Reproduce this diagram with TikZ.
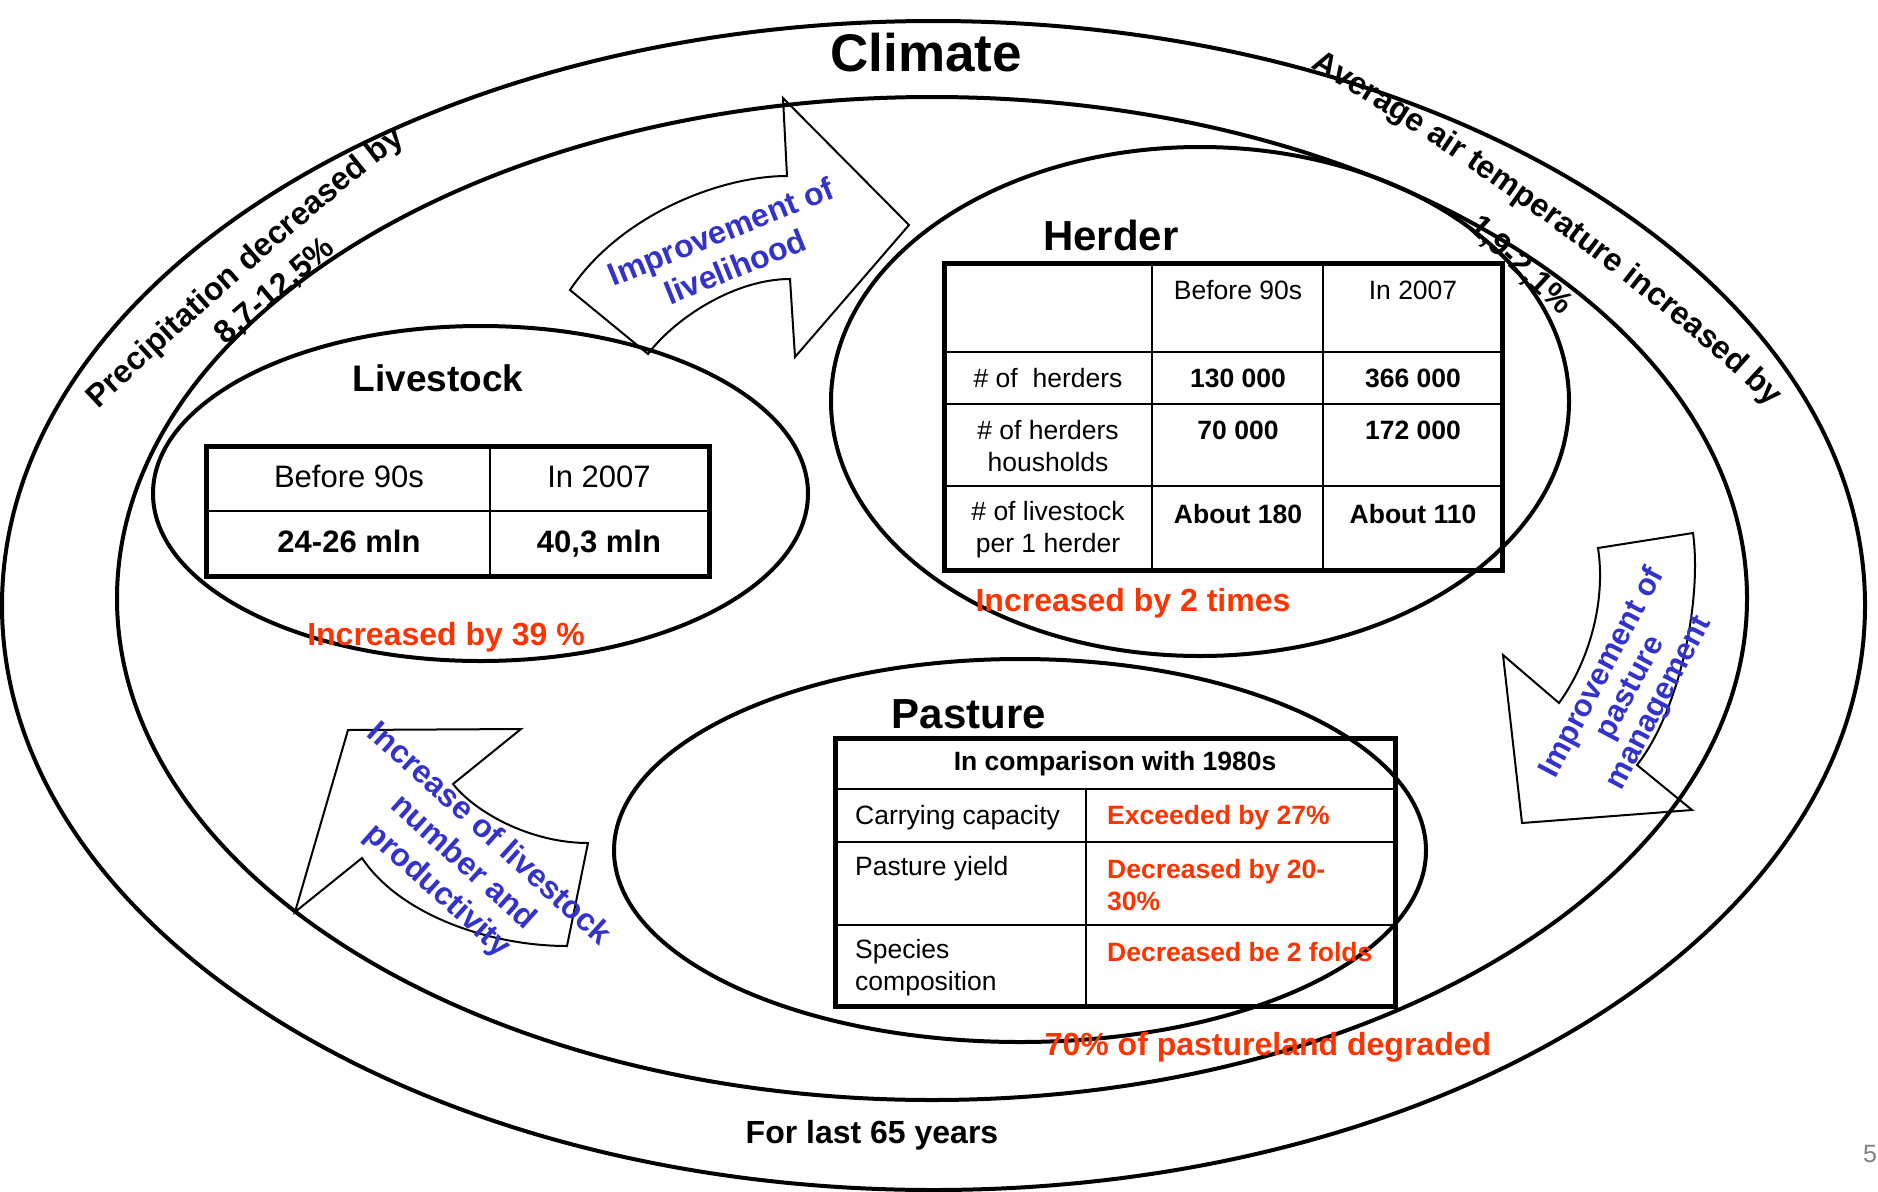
\documentclass[tikz,border=0pt]{standalone}
\usepackage{fontspec}
\setmainfont{Liberation Sans}
\usetikzlibrary{decorations.text}
\definecolor{redtxt}{RGB}{255,51,0}
\definecolor{bluetxt}{RGB}{51,51,204}
\definecolor{pagegray}{RGB}{128,128,128}
\newcommand\climfont{\fontsize{32}{38}\selectfont\bfseries}
\begin{document}
\begin{tikzpicture}[x=1pt,y=-1pt,
  ring/.style={line width=4pt},
  tbl/.style={line width=5pt},
  grid/.style={line width=2pt},
  blockarrow/.style={line width=2pt, line join=miter},
  ctitle/.style={inner sep=0pt, font=\fontsize{53}{60}\selectfont\bfseries, text height=38.2pt, text depth=0pt},
  ttl/.style={inner sep=0pt, font=\fontsize{42}{50}\selectfont\bfseries, text height=30.2pt, text depth=0pt},
  lcell/.style={inner sep=0pt, font=\fontsize{31}{36}\selectfont, text height=22.3pt, text depth=0pt},
  lcellb/.style={lcell, font=\fontsize{31}{36}\selectfont\bfseries},
  hcell/.style={inner sep=0pt, font=\fontsize{26.5}{32}\selectfont, align=center},
  hcellb/.style={hcell, font=\fontsize{26.5}{32}\selectfont\bfseries},
  pcell/.style={inner sep=0pt, font=\fontsize{26.5}{32}\selectfont, align=left, anchor=west},
  pcellr/.style={pcell, font=\fontsize{26.5}{32}\selectfont\bfseries, text=redtxt},
  redlab/.style={inner sep=0pt, font=\fontsize{32}{38}\selectfont\bfseries, text=redtxt, text height=23pt, text depth=0pt},
  blacklab/.style={inner sep=0pt, font=\fontsize{32}{38}\selectfont\bfseries, text height=23pt, text depth=0pt},
  arrowtxt/.style={inner sep=0pt, font=\fontsize{32}{38}\selectfont\bfseries, text=bluetxt, align=center},
  alongtext/.style={decorate, decoration={text along path, text align=center, text={#1}}}
]
\useasboundingbox (0,0) rectangle (1878,1191);

% nested ellipses
\draw[ring] (933.5,605.5) ellipse [x radius=931.5pt, y radius=584.5pt];
\draw[ring] (932,598.5) ellipse [x radius=815pt, y radius=501.5pt];
\draw[ring] (480.5,493.5) ellipse [x radius=327.5pt, y radius=167.5pt];
\draw[ring] (1200,401.5) ellipse [x radius=369pt, y radius=254.5pt];
\draw[ring] (1020,850.5) ellipse [x radius=406pt, y radius=191.5pt];

% climate labels
\node[ctitle] (climate) at (926,52) {Climate};
\path[alongtext={|\climfont|Precipitation decreased by}] (85,422) .. controls (168,342) and (330,196) .. (420,131);
\path[alongtext={|\climfont|8,7-12,5{\%}}] (205,363) -- (357,233);
\path[alongtext={|\climfont|Average air temperature increased by}] (1288,55) .. controls (1437,138) and (1670,303) .. (1788,425);
\path[alongtext={|\climfont|1,9-2,1{\%}}] (1441,204) -- (1587,340);
\node[blacklab] (years) at (872,1132) {For last 65 years};

% block arrows
\draw[blockarrow] (570,290) -- (648,354) .. controls (675,318) and (735,279) .. (790,279) -- (795,357) -- (909,225) -- (783,98) -- (787,176) .. controls (720,176) and (620,215) .. (570,290) -- cycle;
\draw[blockarrow] (1598,548) -- (1693,533) .. controls (1702,600) and (1680,710) .. (1637,765) -- (1692,810) -- (1522,823) -- (1503,655) -- (1559,703) .. controls (1590,660) and (1606,600) .. (1598,548) -- cycle;
\draw[blockarrow] (295,912) -- (348,730) -- (521,729) -- (453,784) .. controls (475,812) and (530,843) .. (588,843) -- (567,946) .. controls (490,946) and (400,915) .. (362,858) -- cycle;
\node[arrowtxt, rotate=22] (tlive) at (728,249) {Improvement of\\livelihood};
\node[arrowtxt, rotate=62, font=\fontsize{31}{32}\selectfont\bfseries] (tpast) at (1631,688) {Improvement of\\pasture\\management};
\node[arrowtxt, rotate=-42] (tstock) at (463,863) {Increase of livestock\\number and\\productivity};

% Livestock
\node[ttl, font=\fontsize{37}{44}\selectfont\bfseries, text height=26.6pt] (livestock) at (438,378) {Livestock};
\draw[grid] (206,511) -- (709,511) (490,446) -- (490,576);
\draw[tbl] (206,446) rectangle (709,576);
\node[lcell] (l11) at (349,476) {Before 90s};
\node[lcell] (l12) at (599,476) {In 2007};
\node[lcellb] (l21) at (349,541) {24-26 mln};
\node[lcellb] (l22) at (599,541) {40,3 mln};
\node[redlab] (lred) at (446,634) {Increased by 39 \%};

% Herder
\node[ttl] (herder) at (1111,235) {Herder};
\draw[grid] (944,352) -- (1502,352) (944,404) -- (1502,404) (944,486) -- (1502,486)
  (1152,263) -- (1152,570) (1323,263) -- (1323,570);
\draw[tbl] (944,263) rectangle (1502,570);
\node[hcell] (h02) at (1238,290) {Before 90s};
\node[hcell] (h03) at (1413,290) {In 2007};
\node[hcell] (h11) at (1048,378) {\#\ of\ \ herders};
\node[hcellb] (h12) at (1238,378) {130 000};
\node[hcellb] (h13) at (1413,378) {366 000};
\node[hcell] (h21) at (1048,446) {\# of herders\\housholds};
\node[hcellb] (h22) at (1238,430) {70 000};
\node[hcellb] (h23) at (1413,430) {172 000};
\node[hcell] (h31) at (1048,530) {\# of livestock\\per 1 herder};
\node[hcellb] (h32) at (1238,514) {About 180};
\node[hcellb] (h33) at (1413,514) {About 110};
\node[redlab] (hred) at (1133,600) {Increased by 2 times};

% Pasture
\node[ttl] (pasture) at (969,713) {Pasture};
\draw[grid] (835,789) -- (1395,789) (835,842) -- (1395,842) (835,925) -- (1395,925) (1086,789) -- (1086,1006);
\draw[tbl] (835,738) rectangle (1395,1006);
\node[hcellb] (p0) at (1115,764) {In comparison with 1980s};
\node[pcell] (p11) at (855,818) {Carrying capacity};
\node[pcellr] (p12) at (1107,818) {Exceeded by 27\%};
\node[pcell] (p21) at (855,869) {Pasture yield};
\node[pcellr] (p22) at (1107,885) {Decreased by 20-\\30\%};
\node[pcell] (p31) at (855,968) {Species\\composition};
\node[pcellr] (p32) at (1107,952) {Decreased be 2 folds};
\node[redlab] (pred) at (1268,1044) {70\% of pastureland degraded};

% page number
\node[inner sep=0pt, font=\fontsize{25}{30}\selectfont, text=pagegray] (pagenum) at (1870,1154) {5};
\end{tikzpicture}
\end{document}
